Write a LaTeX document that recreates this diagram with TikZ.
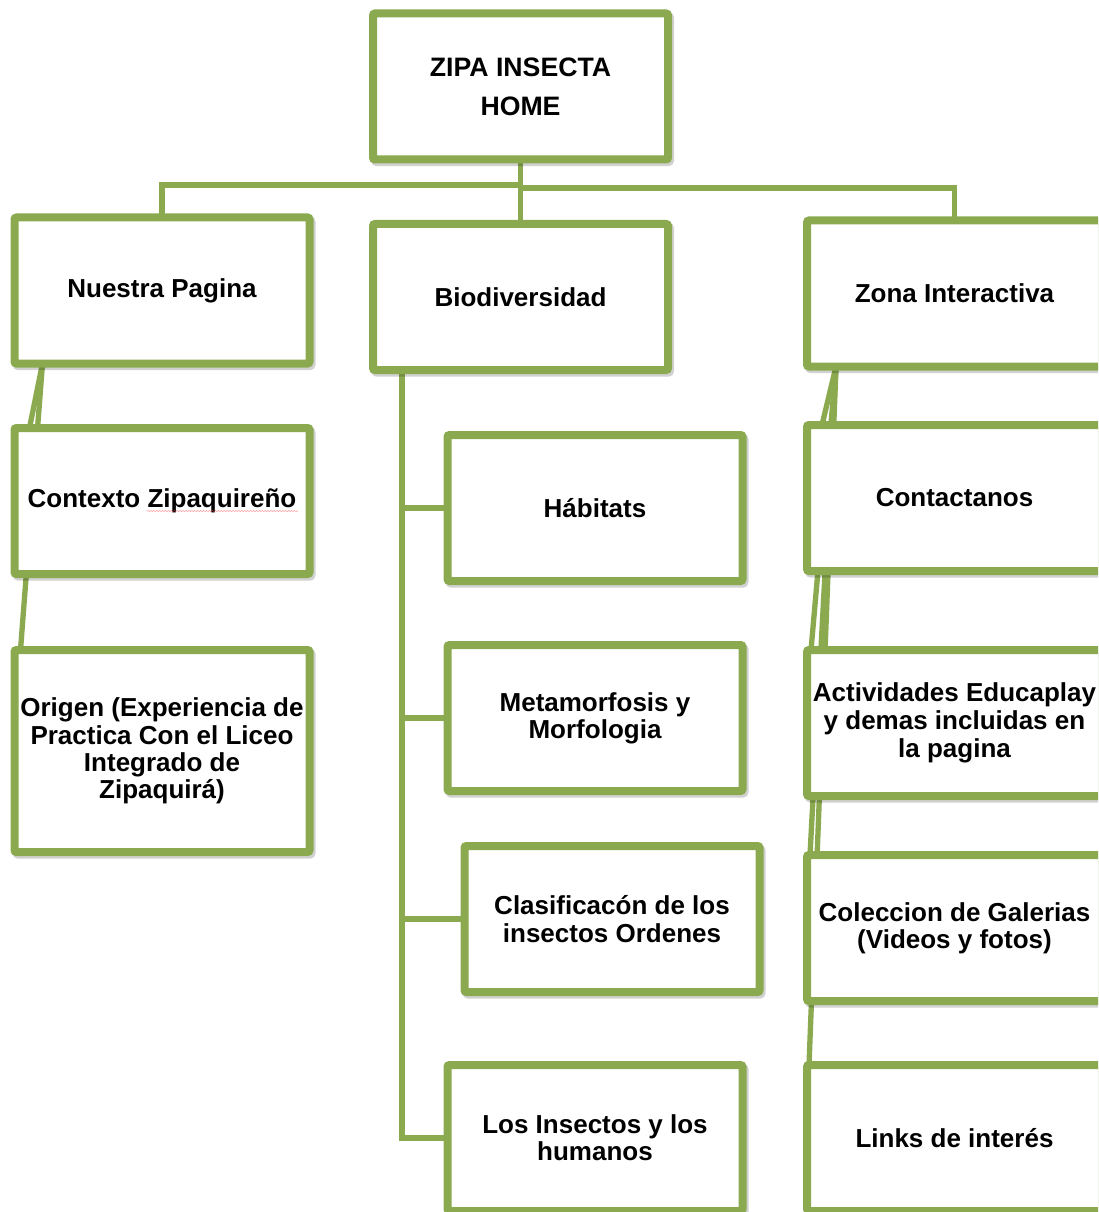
\documentclass[tikz,border=0pt]{standalone}
\usepackage{fontspec}
\setmainfont{Liberation Sans}
\usetikzlibrary{decorations.pathmorphing}
\definecolor{leaf}{RGB}{139,170,80}
\pgfdeclarelayer{back}
\pgfsetlayers{back,main}
\begin{document}
\begin{tikzpicture}[x=0.75pt,y=-0.75pt,
  box/.style={draw=leaf, line width=6pt, fill=white, rounded corners=1.5pt,
    align=center, inner sep=0pt, outer sep=0pt,
    font=\fontsize{19.5pt}{20.5pt}\selectfont\bfseries,
    minimum width=221.25pt, minimum height=109.5pt,
    preaction={draw=black, draw opacity=0.18, line width=6pt,
      transform canvas={xshift=1.5pt,yshift=-2pt}}},
  link/.style={draw=leaf, line width=4pt}]
\useasboundingbox (0,0) rectangle (1098,1212);
\clip (0,0) rectangle (1098,1212);

% top level
\node[box, font=\fontsize{20pt}{29pt}\selectfont\bfseries] (zipa) at (520.5,86.5) {ZIPA INSECTA\\HOME};
\node[box] (nuestra) at (162,290.5) {Nuestra Pagina};
\node[box] (biod) at (520.5,297) {Biodiversidad};
\node[box] (zona) at (954.5,293.5) {Zona Interactiva};

% left column
\node[box] (contexto) at (162,501) {Contexto Zipaquireño};
\node[box, minimum height=151.5pt] (origen) at (162,751)
  {Origen (Experiencia de\\Practica Con el Liceo\\Integrado de\\Zipaquirá)};

% middle column
\node[box] (habitats) at (595,508) {Hábitats};
\node[box] (metam) at (595,718) {Metamorfosis y\\Morfologia};
\node[box] (clasif) at (612,919) {Clasificacón de los\\insectos Ordenes};
\node[box] (humanos) at (595,1138) {Los Insectos y los\\humanos};

% right column
\node[box] (contact) at (954.5,498) {Contactanos};
\node[box, font=\fontsize{19.5pt}{21pt}\selectfont\bfseries] (activ) at (954.5,723)
  {Actividades Educaplay\\y demas incluidas en\\la pagina};
\node[box] (galeria) at (954.5,928) {Coleccion de Galerias\\(Videos y fotos)};
\node[box] (links) at (954.5,1138) {Links de interés};

% spell-check squiggle
\draw[red!70, draw opacity=0.55, line width=0.4pt, decorate,
  decoration={snake, amplitude=0.45pt, segment length=2.2pt}]
  (147,511) -- (298,511);

\begin{pgfonlayer}{back}
  \coordinate (busL) at (521,185);
  \coordinate (busR) at (521,188);
  \draw[link] (zipa.south) -- (biod.north);
  \draw[link] (nuestra.north) |- (busL);
  \draw[link] (zona.north) |- (busR);

  \draw[link] ([xshift=21pt]nuestra.south west) -- ([xshift=11.25pt]contexto.north west);
  \draw[link] ([xshift=21pt]nuestra.south west) -- ([xshift=4.5pt]origen.north west);

  \draw[link] ([xshift=21.75pt]biod.south west) |- (habitats.west);
  \draw[link] ([xshift=21.75pt]biod.south west) |- (metam.west);
  \draw[link] ([xshift=21.75pt]biod.south west) |- (clasif.west);
  \draw[link] ([xshift=21.75pt]biod.south west) |- (humanos.west);

  \draw[link] ([xshift=21.75pt]zona.south west) -- ([xshift=11.25pt]contact.north west);
  \draw[link] ([xshift=21.75pt]zona.south west) -- ([xshift=3pt]activ.north west);
  \draw[link] ([xshift=21.75pt]zona.south west) -- ([xshift=2.25pt]galeria.north west);
  \draw[link] ([xshift=21.75pt]zona.south west) -- ([xshift=1.5pt]links.north west);
\end{pgfonlayer}
\end{tikzpicture}
\end{document}
